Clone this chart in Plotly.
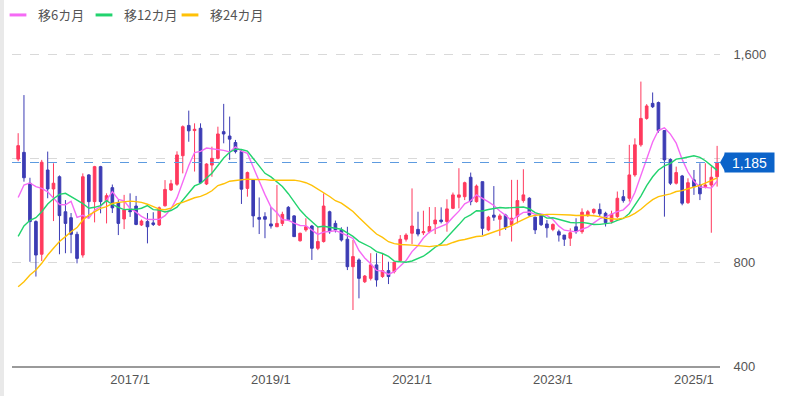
import pandas as pd
import plotly.graph_objects as go

# ---- data (monthly, 2015/6 .. 2025/5) ----
start_month = "2015-06-01"
n_months = 120
opens = [1198,1224,1105,957,831,1156,1083,1130,995,972,908,828,1137,1034,1169,1036,1088,1030,967,1000,
         1017,944,957,952,944,1018,1079,1101,1211,1328,1308,1317,1102,1175,1201,1304,1287,1262,1227,1085,
         1118,973,976,948,937,950,1012,979,883,925,940,854,880,995,950,925,889,783,809,725,
         738,790,745,768,764,806,889,912,927,914,918,948,963,957,1008,1051,1053,1128,1034,1111,
         925,982,966,982,944,976,1038,1047,974,982,948,927,918,905,893,937,918,982,992,1004,
         989,957,976,1053,1047,1137,1253,1355,1413,1416,1308,1197,1105,1133,1030,1118,1098,1092,1098,1130]
highs = [1298,1445,1126,962,1195,1227,1182,1135,1040,990,918,1143,1140,1172,1172,1066,1100,1040,1060,1066,
         1056,965,990,993,1015,1117,1118,1228,1328,1385,1336,1336,1182,1246,1323,1411,1362,1272,1233,1150,
         1120,1050,993,1013,1098,995,1017,982,914,970,944,937,1066,999,961,935,937,886,815,751,
         835,835,832,802,802,905,912,1085,995,999,1013,1013,1012,1043,1069,1163,1111,1146,1100,1111,
         979,1094,987,987,1118,1118,1159,1051,976,986,963,950,926,905,931,970,1008,1002,1008,1027,
         995,999,1073,1079,1253,1278,1497,1410,1455,1420,1310,1201,1169,1137,1124,1156,1182,1182,1169,1249]
lows = [1190,1111,802,745,805,1047,959,831,835,835,796,818,970,954,989,950,990,905,928,975,
        943,940,873,940,940,1015,1075,1095,1143,1265,1150,1105,1098,1130,1197,1259,1195,1220,1025,1053,
        935,909,893,930,937,940,960,899,880,918,809,847,876,910,915,880,770,616,661,720,
        730,706,740,716,757,802,880,870,900,905,912,909,950,918,1005,1008,1040,1020,1030,905,
        920,960,902,925,880,950,1030,975,909,940,895,920,880,863,863,910,910,975,985,978,
        938,950,970,1030,1034,1130,1246,1350,1395,1300,976,1098,1100,1020,1025,1060,1040,1085,914,1092]
closes = [1250,1126,957,828,1186,1083,1105,980,950,908,815,1130,1034,1169,1034,1057,1010,950,1002,995,
          946,959,937,946,1010,1081,1103,1214,1323,1307,1313,1107,1179,1201,1295,1295,1275,1227,1082,1146,
          979,966,966,940,950,985,965,899,912,937,854,880,1017,918,925,886,783,822,738,747,
          790,732,768,745,800,889,905,940,909,918,938,963,957,1006,1060,1060,1107,1034,1094,931,
          974,974,979,935,970,1038,1060,982,925,945,933,946,905,889,914,918,993,995,1004,987,
          953,986,1047,1038,1137,1253,1355,1403,1400,1308,1195,1105,1146,1028,1107,1092,1064,1098,1128,1185]

# moving-average values for the first months (before enough closes exist)
ma6_head = [1050, 1098, 1106, 1092, 1085]
ma12_head = [900, 940, 962, 972, 995, 1025, 1045, 1062, 1066, 1055, 1040]
ma24_head = [706, 725, 751, 770, 796, 828, 854, 880, 899, 918, 934, 963, 982, 995, 1008, 1015,
             1027, 1031, 1034, 1036, 1034, 1031, 1024]

x_tick_vals = ["2017-01-01", "2019-01-01", "2021-01-01", "2023-01-01", "2025-01-01"]
x_tick_text = ["2017/1", "2019/1", "2021/1", "2023/1", "2025/1"]
y_tick_vals = [400, 800, 1200, 1600]
y_tick_text = ["400", "800", "", "1,600"]
ma_names = ["移6カ月", "移12カ月", "移24カ月"]
last_price = closes[-1]

# ---- build ----
dates = pd.date_range(start_month, periods=n_months, freq="MS")
cs = pd.Series(closes, index=dates)


def ma(window, head):
    m = cs.rolling(window).mean()
    m.iloc[:len(head)] = head
    return m


ma6 = ma(6, ma6_head)
ma12 = ma(12, ma12_head)
ma24 = ma(24, ma24_head)

UP = "#ff3a5e"
DOWN = "#3c3cb4"
MA_COLORS = ["#f56af5", "#22d36e", "#ffc107"]
TAG = "#0b63c9"

fig = go.Figure()
fig.add_trace(go.Candlestick(
    x=dates, open=opens, high=highs, low=lows, close=closes,
    increasing=dict(line=dict(color=UP, width=1), fillcolor=UP),
    decreasing=dict(line=dict(color=DOWN, width=1), fillcolor=DOWN),
    whiskerwidth=0, showlegend=False,
))
for s, c in zip([ma6, ma12, ma24], MA_COLORS):
    fig.add_trace(go.Scatter(x=dates, y=s.values, mode="lines",
                             line=dict(color=c, width=1.4), showlegend=False, hoverinfo="skip"))
for name, c in zip(ma_names, MA_COLORS):
    fig.add_trace(go.Scatter(x=[None], y=[None], mode="markers", name=name,
                             marker=dict(symbol="line-ew-open", size=12, color=c,
                                         line=dict(color=c, width=3))))
# spacer legend entry so the last label is not clipped
fig.add_trace(go.Scatter(x=[None], y=[None], mode="markers", name=" ",
                         marker=dict(size=1, color="rgba(0,0,0,0)")))

# last price dashed line + tag
fig.add_shape(type="line", xref="paper", x0=0, x1=1, yref="y", y0=last_price, y1=last_price,
              line=dict(color="#5d9be0", width=1.2, dash="dash"), layer="above")
fig.add_shape(type="path", xref="paper", xsizemode="pixel", xanchor=1,
              yref="y", ysizemode="pixel", yanchor=last_price,
              path="M 0,0 L 5,9 L 5,-9 Z", fillcolor=TAG, line=dict(width=0))
fig.add_annotation(x=1, xref="paper", xanchor="left", xshift=4, y=last_price, yref="y",
                   text=f"{last_price:,}", showarrow=False, bgcolor=TAG,
                   width=45, height=15, align="center",
                   font=dict(color="white", size=14, family="Liberation Sans, Arial"),
                   borderpad=2)
# left page border strip
fig.add_shape(type="rect", xref="paper", yref="paper", x0=-12/708, x1=-8/708, y0=-1, y1=2,
              fillcolor="#e9e9e9", line=dict(width=0), layer="below")

fig.update_layout(
    width=792, height=396,
    margin=dict(l=12, r=72, t=30, b=30, autoexpand=False),
    paper_bgcolor="white", plot_bgcolor="white",
    font=dict(family="Liberation Sans, Arial", size=13, color="#555"),
    legend=dict(orientation="h", x=-14/708, xanchor="left", y=1 + 15/336, yanchor="middle",
                entrywidth=41,
                font=dict(family="Noto Sans CJK JP", size=13, color="#555"),
                bgcolor="rgba(0,0,0,0)", itemclick=False),
    showlegend=True,
    xaxis=dict(type="date", range=["2015-04-30", "2025-05-16"], rangeslider=dict(visible=False),
               tickvals=x_tick_vals, ticktext=x_tick_text, showgrid=False,
               showline=True, linecolor="#9a9a9a", linewidth=2, ticks="",
               tickfont=dict(size=13, color="#555")),
    yaxis=dict(side="right", range=[400, 1696], tickvals=y_tick_vals, ticktext=y_tick_text,
               showgrid=True, gridcolor="#d9d9d9", griddash="dash", gridwidth=1,
               zeroline=False, ticks="outside", ticklen=10, tickcolor="rgba(0,0,0,0)",
               tickfont=dict(size=13, color="#555")),
)

fig.write_html("out.html", config={"displayModeBar": False},
               post_script="document.body.style.margin='0';document.body.style.overflow='hidden';")
